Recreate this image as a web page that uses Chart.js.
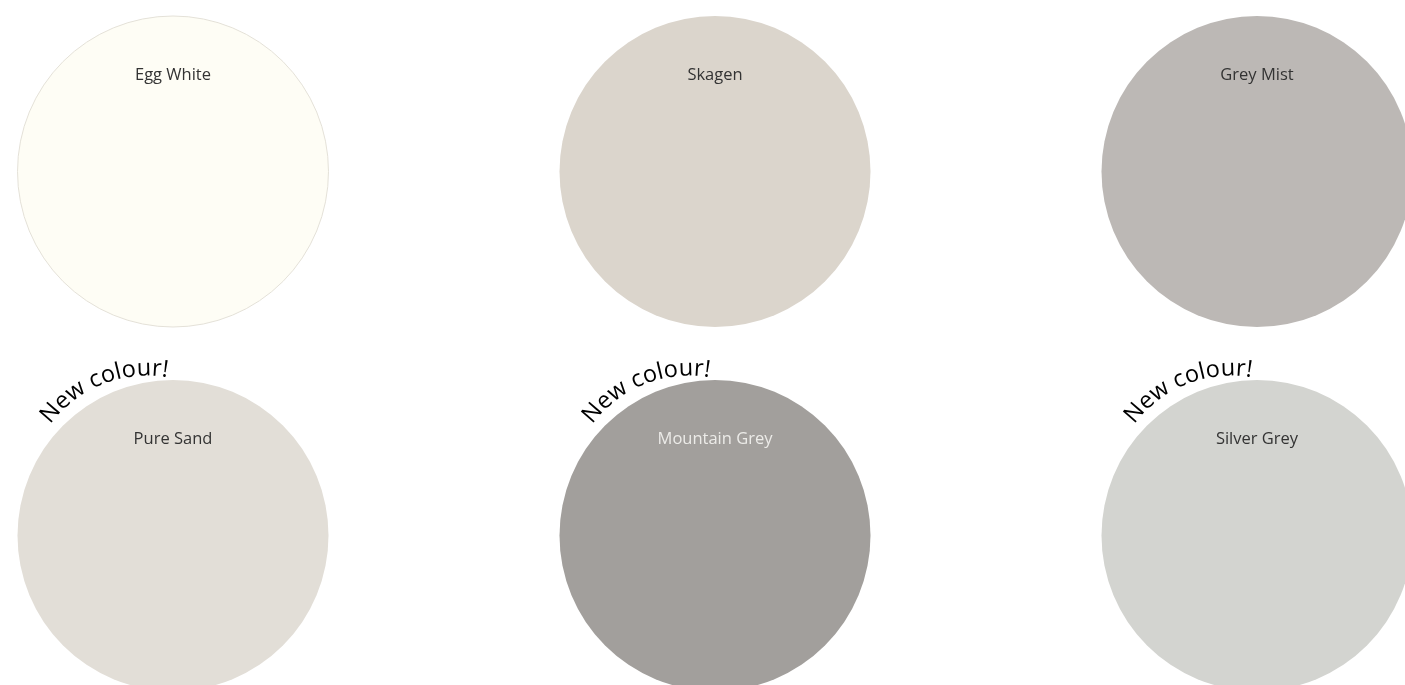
<!DOCTYPE html>
<html>
<head>
<meta charset="utf-8">
<script src="https://cdn.jsdelivr.net/npm/chart.js@4.4.1/dist/chart.umd.min.js"></script>
<style>
html,body{margin:0;padding:0;background:#fff;overflow:hidden;}
#wrap{width:1405px;height:685px;position:relative;}
</style>
</head>
<body>
<div id="wrap"><canvas id="c"></canvas></div>
<script>
const names = ["Egg White","Skagen","Grey Mist","Pure Sand","Mountain Grey","Silver Grey"];
const colours = ["#fefdf5","#dbd5cc","#bcb8b5","#e2ded7","#a29f9c","#d3d4d0"];
const labelColours = ["#333333","#333333","#333333","#333333","#ecebe8","#333333"];
const cols = [0,1,2,0,1,2];
const rows = [0,0,0,1,1,1];
const isNew = [false,false,false,true,true,true];
const badgeText = "New colour!";

const pts = names.map((n,i)=>({x:cols[i], y:rows[i], r:155.5}));

class SwatchController extends Chart.BubbleController {
  getMaxOverflow(){ return 0; }
}
SwatchController.id = 'swatch';
SwatchController.defaults = Chart.BubbleController.defaults;
SwatchController.overrides = Chart.BubbleController.overrides;
Chart.register(SwatchController);

const labelPlugin = {
  id:'swatchLabels',
  afterDatasetsDraw(chart){
    const ctx = chart.ctx;
    const meta = chart.getDatasetMeta(0);
    meta.data.forEach((el,i)=>{
      const cx = el.x, cy = el.y;
      ctx.save();
      ctx.font = '16.5px "Open Sans"';
      ctx.fillStyle = labelColours[i];
      ctx.textAlign = 'center';
      ctx.textBaseline = 'middle';
      ctx.fillText(names[i], cx, cy - 96);
      ctx.restore();
      if(isNew[i]){
        ctx.save();
        ctx.font = '23.5px "Open Sans"';
        ctx.fillStyle = '#000';
        ctx.textAlign = 'center';
        ctx.textBaseline = 'alphabetic';
        const rad = 122;
        const widths = [...badgeText].map(ch=>ctx.measureText(ch).width + 0.2);
        const total = widths.reduce((a,b)=>a+b,0);
        const centreAngle = -22*Math.PI/180;
        ctx.translate(cx - 25, cy - 38);
        ctx.rotate(centreAngle - total/2/rad);
        [...badgeText].forEach((ch,k)=>{
          ctx.rotate(widths[k]/2/rad);
          ctx.fillText(ch, 0, -rad);
          ctx.rotate(widths[k]/2/rad);
        });
        ctx.restore();
      }
    });
  }
};

new Chart(document.getElementById('c'), {
  type:'swatch',
  data:{datasets:[{
    data:pts,
    backgroundColor:colours,
    hoverBackgroundColor:colours,
    borderColor:colours.map((c,i)=>i===0?'#e4e1d8':c),
    hoverBorderColor:colours.map((c,i)=>i===0?'#e4e1d8':c),
    borderWidth:colours.map((c,i)=>i===0?1:0),
    hoverBorderWidth:colours.map((c,i)=>i===0?1:0),
    hoverRadius:0,
    clip:false
  }]},
  options:{
    responsive:true,
    maintainAspectRatio:false,
    animation:false,
    events:[],
    layout:{padding:0},
    plugins:{legend:{display:false},tooltip:{enabled:false}},
    scales:{
      x:{type:'linear',display:false,min:-173/542,max:(1405-173)/542},
      y:{type:'linear',display:false,reverse:true,min:-171.5/364,max:(685-171.5)/364}
    }
  },
  plugins:[labelPlugin]
});
</script>
</body>
</html>
